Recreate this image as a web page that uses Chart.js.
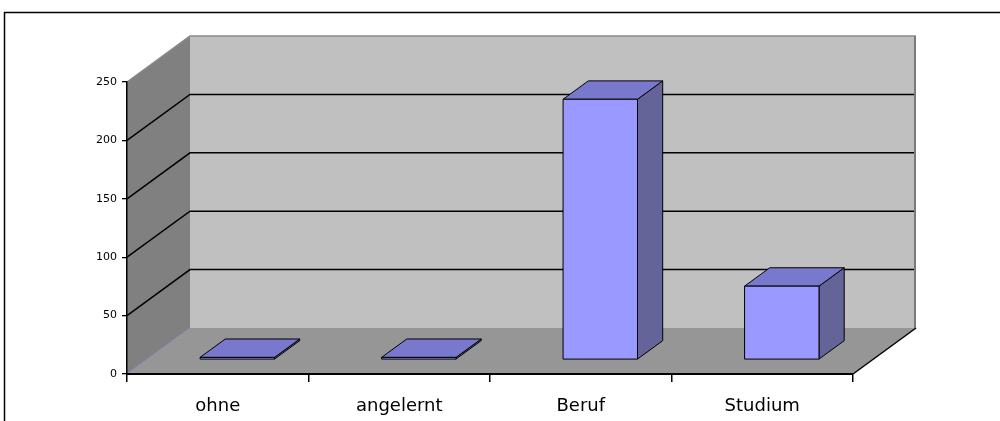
<!DOCTYPE html>
<html>
<head>
<meta charset="utf-8">
<script src="https://cdn.jsdelivr.net/npm/chart.js@4/dist/chart.umd.min.js"></script>
<style>
html,body{margin:0;padding:0;background:#fff;}
#wrap{width:1000px;height:421px;position:relative;}
</style>
</head>
<body>
<div id="wrap"><canvas id="c" width="1000" height="421"></canvas></div>
<script>
// ---- data ----
const categories = ['ohne', 'angelernt', 'Beruf', 'Studium'];
const values = [2, 2, 223, 63];
const yMin = 0;
const yMax = 250;
const yStep = 50;

// ---- 3D styling ----
const DX = 63, DY = -46;          // depth vector of the floor/walls
const F1 = 0.31, F2 = 0.71;       // bar front/back depth fraction
const C_FRONT = '#9999ff', C_TOP = '#7878cc', C_SIDE = '#646499';

function poly(ctx, pts, fill, stroke, lw) {
  ctx.beginPath();
  ctx.moveTo(pts[0][0], pts[0][1]);
  for (let i = 1; i < pts.length; i++) ctx.lineTo(pts[i][0], pts[i][1]);
  ctx.closePath();
  if (fill) { ctx.fillStyle = fill; ctx.fill(); }
  if (stroke) { ctx.strokeStyle = stroke; ctx.lineWidth = lw || 1; ctx.stroke(); }
}
function line(ctx, pts, color, lw) {
  ctx.beginPath();
  ctx.moveTo(pts[0][0], pts[0][1]);
  for (let i = 1; i < pts.length; i++) ctx.lineTo(pts[i][0], pts[i][1]);
  ctx.strokeStyle = color; ctx.lineWidth = lw; ctx.stroke();
}

const threeD = {
  id: 'threeD',
  beforeDraw(chart) {
    const ctx = chart.ctx;
    const { left, right } = chart.chartArea;
    const y = chart.scales.y;
    const b = y.getPixelForValue(yMin), t = y.getPixelForValue(yMax);
    ctx.save();
    ctx.fillStyle = '#fff';
    ctx.fillRect(0, 0, chart.width, chart.height);
    // outer frame
    ctx.strokeStyle = '#000'; ctx.lineWidth = 1.5;
    ctx.strokeRect(4.5, 12.5, 1200, 600);
    // back wall
    poly(ctx, [[left + DX, t + DY], [right + DX, t + DY], [right + DX, b + DY], [left + DX, b + DY]], '#c0c0c0');
    // left wall
    poly(ctx, [[left, b], [left, t], [left + DX, t + DY], [left + DX, b + DY]], '#808080');
    // floor
    poly(ctx, [[left, b], [right, b], [right + DX, b + DY], [left + DX, b + DY]], '#969696');
    // gridlines
    for (let v = yMin + yStep; v < yMax; v += yStep) {
      const py = y.getPixelForValue(v);
      line(ctx, [[left, py], [left + DX, py + DY], [right + DX, py + DY]], '#000', 1.5);
    }
    // edges
    line(ctx, [[left, t], [left + DX, t + DY], [right + DX, t + DY]], '#8a8a8a', 1.5);
    line(ctx, [[right + DX - 1, t + DY], [right + DX - 1, b + DY]], '#7a7a7a', 2);
    line(ctx, [[left, b], [left + DX, b + DY]], '#8a8ac0', 1);
    line(ctx, [[right, b], [right + DX, b + DY]], '#000', 1.5);
    ctx.restore();
  },
  afterDatasetsDraw(chart) {
    const ctx = chart.ctx;
    const meta = chart.getDatasetMeta(0);
    ctx.save();
    ctx.lineJoin = 'miter';
    meta.data.forEach((el) => {
      const hw = el.width / 2;
      const x0 = el.x - hw, x1 = el.x + hw;
      const yt = el.y, yb = el.base;
      const fx = DX * F1, fy = DY * F1, bx = DX * F2, by = DY * F2;
      // side face
      poly(ctx, [[x1 + fx, yt + fy], [x1 + bx, yt + by], [x1 + bx, yb + by], [x1 + fx, yb + fy]], C_SIDE, '#000', 1);
      // top face
      poly(ctx, [[x0 + fx, yt + fy], [x1 + fx, yt + fy], [x1 + bx, yt + by], [x0 + bx, yt + by]], C_TOP, '#000', 1);
      // front face
      poly(ctx, [[x0 + fx, yt + fy], [x1 + fx, yt + fy], [x1 + fx, yb + fy], [x0 + fx, yb + fy]], C_FRONT, '#000', 1);
    });
    ctx.restore();
  }
};

new Chart(document.getElementById('c'), {
  type: 'bar',
  data: {
    labels: categories,
    datasets: [{
      data: values,
      backgroundColor: 'rgba(0,0,0,0)',
      borderWidth: 0,
      barPercentage: 0.41,
      categoryPercentage: 1.0
    }]
  },
  options: {
    responsive: false,
    animation: false,
    events: [],
    layout: { padding: { left: 0, top: 82, right: 147, bottom: 0 } },
    plugins: { legend: { display: false }, tooltip: { enabled: false } },
    scales: {
      x: {
        offset: true,
        grid: { display: true, drawOnChartArea: false, offset: true, tickLength: 8, color: '#000', lineWidth: 1.5 },
        border: { display: true, color: '#000', width: 2 },
        ticks: { color: '#000', font: { family: 'DejaVu Sans', size: 18 }, padding: 14, maxRotation: 0 },
        afterFit(s) { s.height = 47; }
      },
      y: {
        min: yMin, max: yMax,
        ticks: { stepSize: yStep, color: '#000', font: { family: 'DejaVu Sans', size: 11 }, padding: 5 },
        grid: { display: true, drawOnChartArea: false, tickLength: 5, color: '#000', lineWidth: 1.3 },
        border: { display: true, color: '#000', width: 1.5 },
        afterFit(s) { s.width = 127; }
      }
    }
  },
  plugins: [threeD]
});
</script>
</body>
</html>
